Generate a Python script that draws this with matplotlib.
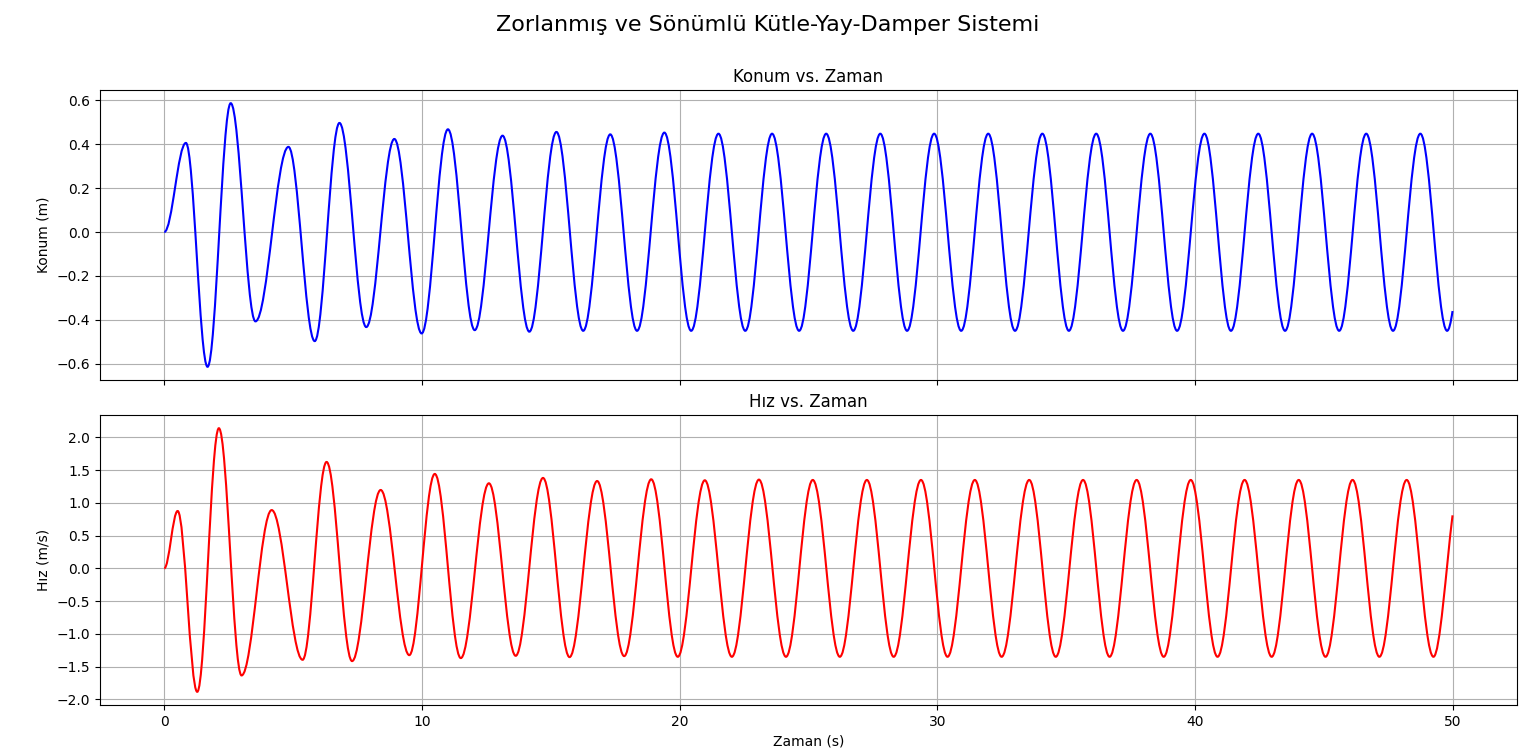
import matplotlib
matplotlib.use("Agg")
import matplotlib.pyplot as plt
from matplotlib.path import Path
from matplotlib.patches import PathPatch

# extrema (time, value), plus start and end points
pos_t = [0.0, 0.84, 1.68, 2.58, 3.54, 4.82, 5.84, 6.80, 7.84, 8.93, 9.99,
         11.01, 12.05, 13.13, 14.17, 15.22, 16.26, 17.31, 18.35, 19.41, 20.45,
         21.51, 22.55, 23.59, 24.64, 25.69, 26.74, 27.79, 28.83, 29.88, 30.93,
         31.98, 33.02, 34.08, 35.11, 36.17, 37.21, 38.27, 39.31, 40.37, 41.40,
         42.46, 43.50, 44.55, 45.60, 46.65, 47.69, 48.75, 49.79, 50.0]
pos_x = [0.0, 0.406, -0.614, 0.587, -0.407, 0.388, -0.497, 0.497, -0.433, 0.424, -0.462,
         0.468, -0.447, 0.439, -0.454, 0.456, -0.450, 0.445, -0.450, 0.453, -0.450,
         0.448, -0.450, 0.448, -0.450, 0.448, -0.450, 0.448, -0.450, 0.448, -0.450,
         0.448, -0.450, 0.448, -0.450, 0.448, -0.450, 0.448, -0.450, 0.448, -0.450,
         0.448, -0.450, 0.448, -0.450, 0.448, -0.450, 0.448, -0.450, -0.360]
pos_end_slope = 0.8

vel_t = [0.0, 0.52, 1.28, 2.12, 3.00, 4.17, 5.37, 6.30, 7.29, 8.40, 9.51,
         10.50, 11.51, 12.60, 13.64, 14.70, 15.73, 16.80, 17.85, 18.90, 19.93,
         20.98, 22.03, 23.08, 24.13, 25.17, 26.22, 27.27, 28.31, 29.37, 30.40,
         31.46, 32.50, 33.57, 34.60, 35.66, 36.69, 37.74, 38.79, 39.84, 40.88,
         41.93, 42.98, 44.03, 45.07, 46.12, 47.16, 48.22, 49.26, 50.0]
vel_v = [0.0, 0.876, -1.885, 2.14, -1.635, 0.89, -1.396, 1.625, -1.416, 1.197, -1.325,
         1.442, -1.370, 1.299, -1.335, 1.381, -1.355, 1.334, -1.340, 1.360, -1.350,
         1.345, -1.350, 1.355, -1.350, 1.350, -1.350, 1.350, -1.350, 1.350, -1.350,
         1.350, -1.350, 1.350, -1.350, 1.350, -1.350, 1.350, -1.350, 1.350, -1.350,
         1.350, -1.350, 1.350, -1.350, 1.350, -1.350, 1.350, -1.350, 0.81]
vel_end_slope = 3.2


def smooth_path(t, y, end_slope):
    # cubic bezier pieces with flat tangents at the extrema
    verts = [(t[0], y[0])]
    codes = [Path.MOVETO]
    n = len(t)
    for i in range(n - 1):
        h = t[i + 1] - t[i]
        if i < n - 2:
            k = 0.363 * h
            verts += [(t[i] + k, y[i]), (t[i + 1] - k, y[i + 1]), (t[i + 1], y[i + 1])]
        else:
            k = h / 3
            verts += [(t[i] + k, y[i]), (t[i + 1] - k, y[i + 1] - end_slope * k),
                      (t[i + 1], y[i + 1])]
        codes += [Path.CURVE4] * 3
    return Path(verts, codes)


fig, (ax1, ax2) = plt.subplots(2, 1, sharex=True, figsize=(15.36, 7.54), dpi=100)
fig.subplots_adjust(left=0.065, right=0.9876, top=0.8806, bottom=0.065, hspace=0.121)

ax1.add_patch(PathPatch(smooth_path(pos_t, pos_x, pos_end_slope), fill=False,
                        edgecolor='blue', lw=1.5, zorder=2))
ax1.autoscale_view()
ax1.set_title('Konum vs. Zaman')
ax1.set_ylabel('Konum (m)')
ax1.grid(True)

ax2.add_patch(PathPatch(smooth_path(vel_t, vel_v, vel_end_slope), fill=False,
                        edgecolor='red', lw=1.5, zorder=2))
ax2.autoscale_view()
ax2.set_title('Hız vs. Zaman')
ax2.set_ylabel('Hız (m/s)')
ax2.set_xlabel('Zaman (s)')
ax2.grid(True)

fig.suptitle('Zorlanmış ve Sönümlü Kütle-Yay-Damper Sistemi', fontsize=16, y=0.98)
fig.savefig('out.png')
